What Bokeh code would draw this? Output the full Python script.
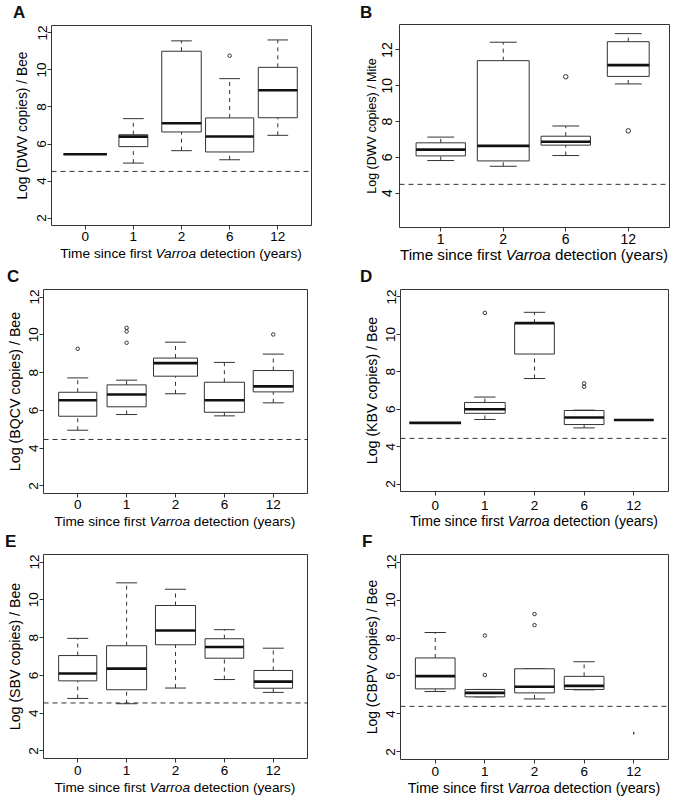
from bokeh.plotting import figure
from bokeh.models import Span, FixedTicker, Div
from bokeh.layouts import column, row
from bokeh.embed import file_html
from bokeh.resources import INLINE

# ---------------- data ----------------
cats5 = ["0", "1", "2", "6", "12"]
cats4 = ["1", "2", "6", "12"]

# Panel A: DWV per bee
A_lo  = [5.45, 4.97, 5.64, 5.15, 6.47]
A_q1  = [5.45, 5.86, 6.65, 5.57, 7.42]
A_med = [5.45, 6.40, 7.12, 6.41, 8.90]
A_q3  = [5.45, 6.50, 11.01, 7.41, 10.14]
A_hi  = [5.45, 7.37, 11.57, 9.53, 11.62]
A_out = [[], [], [], [10.77], []]
A_limit = 4.52

# Panel B: DWV per mite
B_lo  = [5.82, 5.50, 6.10, 10.10]
B_q1  = [6.08, 5.80, 6.68, 10.52]
B_med = [6.43, 6.64, 6.87, 11.15]
B_q3  = [6.81, 11.40, 7.18, 12.46]
B_hi  = [7.13, 12.43, 7.75, 12.91]
B_out = [[], [], [10.50], [7.48]]
B_limit = 4.49

# Panel C: BQCV per bee
C_lo  = [4.95, 5.78, 6.88, 5.71, 6.40]
C_q1  = [5.69, 6.19, 7.81, 5.90, 6.98]
C_med = [6.54, 6.84, 8.50, 6.54, 7.27]
C_q3  = [6.96, 7.35, 8.77, 7.49, 8.11]
C_hi  = [7.72, 7.60, 9.61, 8.54, 8.98]
C_out = [[9.26], [9.58, 10.18, 10.37], [], [], [10.02]]
C_limit = 4.46

# Panel D: KBV per bee
D_lo  = [5.27, 5.45, 7.64, 5.00, 5.42]
D_q1  = [5.27, 5.78, 8.95, 5.18, 5.42]
D_med = [5.27, 6.00, 10.60, 5.56, 5.42]
D_q3  = [5.27, 6.36, 10.60, 5.93, 5.42]
D_hi  = [5.27, 6.65, 11.18, 5.95, 5.42]
D_out = [[], [11.15], [], [7.20, 7.38], []]
D_limit = 4.44

# Panel E: SBV per bee
E_lo  = [4.78, 4.50, 5.33, 5.78, 5.10]
E_q1  = [5.71, 5.24, 7.62, 6.91, 5.32]
E_med = [6.10, 6.36, 8.38, 7.50, 5.67]
E_q3  = [7.05, 7.57, 9.70, 7.94, 6.26]
E_hi  = [7.96, 10.90, 10.56, 8.42, 7.44]
E_out = [[], [], [], [], []]
E_limit = 4.54

# Panel F: CBPV per bee
F_lo  = [5.18, 4.90, 4.79, 5.27, 2.99]
F_q1  = [5.32, 4.90, 5.11, 5.29, 2.99]
F_med = [5.99, 5.11, 5.43, 5.48, 2.99]
F_q3  = [6.95, 5.29, 6.38, 5.98, 2.99]
F_hi  = [8.29, 5.29, 6.38, 6.75, 2.99]
F_out = [[], [6.05, 8.13], [8.68, 9.26], [], []]
F_limit = 4.40

x_title_html = "Time since first <i>Varroa</i> detection (years)"

# ---------------- styles / layout ----------------
LC = "#333333"
FONT = "Liberation Sans"
ASC, CONTENT = 0.905, 1.117   # font metrics (em)
COLW = 337

STY = {
    "A": dict(rowh=265, top=25, bl=51, fw=260, bt=2, fh=200, bb=22, ylim=(2, 12),
              yticks=[2, 4, 6, 8, 10, 12], widths=[0.9, 0.6, 0.82, 1.0, 0.81],
              lx=13, lbase=18.5, xfs=13.7, xbase=33, yfs=13.8, ystand=5, tfs=13.5, xstand=2, ylstand=1,
              osize=3.5),
    "B": dict(rowh=265, top=24, bl=62, fw=270, bt=2, fh=203, bb=22, ylim=(2.5, 13),
              yticks=[4, 6, 8, 10, 12], widths=[0.79, 0.83, 0.79, 0.67],
              lx=23, lbase=18.5, xfs=15.2, xbase=33, yfs=12.5, ystand=1, tfs=14, xstand=2, ylstand=3,
              osize=4.5),
    "C": dict(rowh=265, top=24, bl=43, fw=264, bt=2, fh=204, bb=22, ylim=(2, 12),
              yticks=[2, 4, 6, 8, 10, 12], widths=[0.78, 0.8, 0.9, 0.82, 0.82],
              lx=7, lbase=17, xfs=13.65, xbase=33, yfs=14.2, ystand=4, tfs=13.5, xstand=2, ylstand=1,
              osize=3.5),
    "D": dict(rowh=265, top=24, bl=63, fw=268, bt=2, fh=202, bb=25, ylim=(2, 12),
              yticks=[2, 4, 6, 8, 10, 12], widths=[1.04, 0.82, 0.8, 0.8, 0.8],
              lx=23, lbase=17, xfs=14.05, xbase=36, yfs=14.2, ystand=4, tfs=13.5, xstand=5, ylstand=1,
              osize=3.5),
    "E": dict(rowh=270, top=24, bl=43, fw=264, bt=2, fh=204, bb=22, ylim=(2, 12),
              yticks=[2, 4, 6, 8, 10, 12], widths=[0.78, 0.82, 0.82, 0.79, 0.79],
              lx=5, lbase=17, xfs=13.65, xbase=34, yfs=14.2, ystand=4, tfs=13.5, xstand=3, ylstand=1,
              osize=3.5),
    "F": dict(rowh=270, top=24, bl=63, fw=268, bt=2, fh=205, bb=22, ylim=(2, 12),
              yticks=[2, 4, 6, 8, 10, 12], widths=[0.8, 0.8, 0.8, 0.8, 0.015],
              lx=25, lbase=17, xfs=14.3, xbase=34, yfs=13.9, ystand=4, tfs=13.5, xstand=3, ylstand=1,
              osize=3.5),
}


def make_panel(letter, cats, lo, q1, med, q3, hi, outs, limit, ylabel, S):
    n = len(cats)
    xr = (0.5 - 0.04 * n, n + 0.5 + 0.04 * n)
    ext = 0.04 * (S["ylim"][1] - S["ylim"][0])
    yr = (S["ylim"][0] - ext, S["ylim"][1] + ext)
    br = COLW - S["bl"] - S["fw"]
    fig_h = S["bt"] + S["fh"] + S["bb"]
    p = figure(width=COLW, height=fig_h, x_range=xr, y_range=yr, title=None,
               output_backend="svg", toolbar_location=None,
               min_border_left=S["bl"], min_border_right=br,
               min_border_top=S["bt"], min_border_bottom=S["bb"])
    p.xgrid.visible = False
    p.ygrid.visible = False
    p.outline_line_color = LC
    p.outline_line_width = 1
    p.background_fill_color = "white"
    p.border_fill_color = "white"

    xs = list(range(1, n + 1))
    half = [w / 2 for w in S["widths"]]
    left = [x - h for x, h in zip(xs, half)]
    right = [x + h for x, h in zip(xs, half)]
    cap = [min(0.43, w) / 2 for w in S["widths"]]

    # whiskers
    p.segment(x0=xs, y0=q3, x1=xs, y1=hi, line_color=LC, line_width=1, line_dash="4 4")
    p.segment(x0=xs, y0=lo, x1=xs, y1=q1, line_color=LC, line_width=1, line_dash="4 4")
    # staples
    p.segment(x0=[x - c for x, c in zip(xs, cap)], y0=hi, x1=[x + c for x, c in zip(xs, cap)], y1=hi,
              line_color=LC, line_width=1)
    p.segment(x0=[x - c for x, c in zip(xs, cap)], y0=lo, x1=[x + c for x, c in zip(xs, cap)], y1=lo,
              line_color=LC, line_width=1)
    # boxes
    p.quad(left=left, right=right, bottom=q1, top=q3, fill_color="white", line_color=LC, line_width=1)
    # medians
    p.segment(x0=left, y0=med, x1=right, y1=med, line_color="#111111", line_width=2.6)
    # outliers
    ox, oy = [], []
    for x, vals in zip(xs, outs):
        for v in vals:
            ox.append(x)
            oy.append(v)
    if ox:
        p.scatter(ox, oy, marker="circle", size=S["osize"], fill_color=None, line_color=LC, line_width=1)

    p.add_layout(Span(location=limit, dimension="width", line_color=LC, line_width=1, line_dash="5 4"))

    # x axis
    xa = p.xaxis[0]
    xa.ticker = FixedTicker(ticks=xs)
    xa.major_label_overrides = {x: c for x, c in zip(xs, cats)}
    xa.axis_line_color = None
    xa.major_tick_in = 0
    xa.major_tick_out = 4
    xa.major_tick_line_color = LC
    xa.minor_tick_line_color = None
    xa.major_label_standoff = S["xstand"]
    xa.major_label_text_font = FONT
    xa.major_label_text_font_size = f"{S['tfs']}px"
    xa.major_label_text_color = "black"

    # y axis
    ya = p.yaxis[0]
    ya.ticker = FixedTicker(ticks=S["yticks"])
    ya.axis_line_color = None
    ya.major_tick_in = 0
    ya.major_tick_out = 4
    ya.major_tick_line_color = LC
    ya.minor_tick_line_color = None
    ya.major_label_orientation = "vertical"
    ya.major_label_standoff = S["ylstand"]
    ya.major_label_text_font = FONT
    ya.major_label_text_font_size = f"{S['tfs']}px"
    ya.major_label_text_color = "black"
    ya.axis_label = ylabel
    ya.axis_label_standoff = S["ystand"]
    ya.axis_label_text_font = FONT
    ya.axis_label_text_font_style = "normal"
    ya.axis_label_text_font_size = f"{S['yfs']}px"
    ya.axis_label_text_color = "black"

    # panel letter (div above the figure)
    t1 = S["top"] - S["bt"]
    lfs = 17
    loff = S["lbase"] - ASC * lfs
    top_div = Div(
        text=(f'<div style="position:relative; top:{loff:.1f}px; left:{S["lx"]}px; '
              f'font-family:\'{FONT}\'; font-weight:bold; font-size:{lfs}px; '
              f'line-height:{CONTENT * lfs:.1f}px; color:#111; white-space:nowrap">{letter}</div>'),
        width=COLW, height=t1, margin=0, styles={"overflow": "visible"})

    # x title (div below the figure), centred on the frame
    t2 = S["rowh"] - t1 - fig_h
    fs = S["xfs"]
    fc = S["bl"] + S["fw"] / 2
    xoff = (S["xbase"] - S["bb"]) - ASC * fs
    bot_div = Div(
        text=(f'<div style="position:relative; top:{xoff:.1f}px; width:{2 * fc:.1f}px; text-align:center; '
              f'font-family:\'{FONT}\'; font-size:{fs}px; line-height:{CONTENT * fs:.1f}px; '
              f'color:black; white-space:nowrap">{x_title_html}</div>'),
        width=COLW, height=t2, margin=0, styles={"overflow": "visible"})

    return column(top_div, p, bot_div, spacing=0)


pA = make_panel("A", cats5, A_lo, A_q1, A_med, A_q3, A_hi, A_out, A_limit, "Log (DWV copies) / Bee", STY["A"])
pB = make_panel("B", cats4, B_lo, B_q1, B_med, B_q3, B_hi, B_out, B_limit, "Log (DWV copies) / Mite", STY["B"])
pC = make_panel("C", cats5, C_lo, C_q1, C_med, C_q3, C_hi, C_out, C_limit, "Log (BQCV copies) / Bee", STY["C"])
pD = make_panel("D", cats5, D_lo, D_q1, D_med, D_q3, D_hi, D_out, D_limit, "Log (KBV copies) / Bee", STY["D"])
pE = make_panel("E", cats5, E_lo, E_q1, E_med, E_q3, E_hi, E_out, E_limit, "Log (SBV copies) / Bee", STY["E"])
pF = make_panel("F", cats5, F_lo, F_q1, F_med, F_q3, F_hi, F_out, F_limit, "Log (CBPV copies) / Bee", STY["F"])

layout = column(row(pA, pB, spacing=0), row(pC, pD, spacing=0), row(pE, pF, spacing=0), spacing=0)

open("out.html", "w").write(file_html(layout, INLINE))
